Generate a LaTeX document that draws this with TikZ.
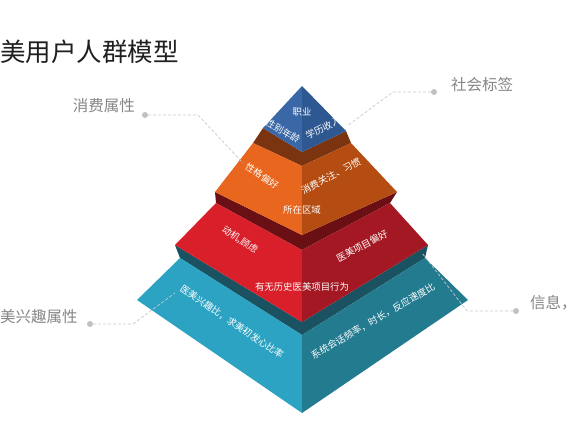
\documentclass[tikz,border=0pt]{standalone}
\usepackage{fontspec}
\setmainfont{Noto Sans CJK SC}
\newfontfamily\cjk{Noto Sans CJK SC}
\definecolor{bluL}{HTML}{3A67A5}
\definecolor{bluR}{HTML}{2D5891}
\definecolor{oraL}{HTML}{E8661E}
\definecolor{oraR}{HTML}{B54D13}
\definecolor{oraD}{HTML}{7A3410}
\definecolor{redL}{HTML}{D91F2A}
\definecolor{redR}{HTML}{A31822}
\definecolor{redD}{HTML}{6A1015}
\definecolor{tealL}{HTML}{2CA3C2}
\definecolor{tealR}{HTML}{237B90}
\definecolor{tealD}{HTML}{1B5262}
\definecolor{lblgray}{HTML}{858585}
\definecolor{linegray}{HTML}{C8C8C8}
\tikzset{
  facetext/.style={text=white, font=\cjk\fontsize{9.4}{10}\selectfont, inner sep=0pt},
  sidelabel/.style={text=lblgray, font=\cjk\fontsize{15.5}{17}\selectfont, inner sep=0pt},
  leader/.style={draw=linegray, dashed, dash pattern=on 3pt off 2pt, line width=0.7pt},
  dotnode/.style={circle, fill=linegray!90!gray, inner sep=0pt, minimum size=6pt},
}
\begin{document}
\begin{tikzpicture}[x=1pt,y=-1pt]
\useasboundingbox (0,0) rectangle (576,432);
% coordinates
\coordinate (A) at (302,86);
\coordinate (BL) at (263,128);
\coordinate (BF) at (302,152);
\coordinate (BR) at (346,131);
\coordinate (OTL) at (253,143);
\coordinate (OTF) at (302,166);
\coordinate (OTR) at (351,143);
\coordinate (OBL) at (215,192);
\coordinate (OBF) at (302,235);
\coordinate (OBR) at (397,192);
\coordinate (RTL) at (216,203);
\coordinate (RTF) at (302,250);
\coordinate (RTR) at (390,203);
\coordinate (RBL) at (175,245);
\coordinate (RBF) at (302,322);
\coordinate (RBR) at (428,245);
\coordinate (TTL) at (180,258);
\coordinate (TTF) at (302,335);
\coordinate (TTR) at (425,258);
\coordinate (TBL) at (137,300);
\coordinate (TBF) at (302,413);
\coordinate (TBR) at (468,300);
% teal tier
\fill[tealD] (TTL) -- (TTF) -- (TTR) -- (RBR) -- (RBF) -- (RBL) -- cycle;
\fill[tealL] (TTL) -- (TTF) -- (TBF) -- (TBL) -- cycle;
\fill[tealR] (TTR) -- (TTF) -- (TBF) -- (TBR) -- cycle;
% red tier
\fill[redD] (RTL) -- (RTF) -- (RTR) -- (OBR) -- (OBF) -- (OBL) -- cycle;
\fill[redL] (RTL) -- (RTF) -- (RBF) -- (RBL) -- cycle;
\fill[redR] (RTR) -- (RTF) -- (RBF) -- (RBR) -- cycle;
% orange tier
\fill[oraD] (OTL) -- (OTF) -- (OTR) -- (BR) -- (BF) -- (BL) -- cycle;
\fill[oraL] (OTL) -- (OTF) -- (OBF) -- (OBL) -- cycle;
\fill[oraR] (OTR) -- (OTF) -- (OBF) -- (OBR) -- cycle;
% blue tier
\fill[bluL] (A) -- (BL) -- (BF) -- cycle;
\fill[bluR] (A) -- (BR) -- (BF) -- cycle;
% face texts
\node[facetext] (t1) at (302,112) {职业};
\node[facetext, rotate=-30] (t2) at (283,131) {性别年龄};
\node[facetext, rotate=27] (t3) at (323,128) {学历收入};
\node[facetext, rotate=-33] (t4) at (262,176) {性格偏好};
\node[facetext, rotate=28] (t5) at (331,176) {消费关注、习惯};
\node[facetext] (t6) at (302,210) {所在区域};
\node[facetext, rotate=-33] (t7) at (240,240) {动机,顾虑};
\node[facetext, rotate=28] (t8) at (362,246) {医美项目偏好};
\node[facetext] (t9) at (302,287) {有无历史医美项目行为};
\node[facetext, rotate=-34] (t10) at (232,322) {医美兴趣比，求美初发心比率};
\node[facetext, rotate=30] (t11) at (373,321) {系统会话频率，时长，反应速度比};
% title
\node[anchor=west, inner sep=0pt, text=black!88, font=\cjk\fontsize{25.5}{27}\selectfont] (title) at (0,52) {美用户人群模型};
% side labels
\node[sidelabel, anchor=east] (l1) at (135,106) {消费属性};
\node[sidelabel, anchor=west] (l2) at (451,85) {社会标签};
\node[sidelabel, anchor=west] (l3) at (0,317) {美兴趣属性};
\node[sidelabel, anchor=west] (l4) at (530,303) {信息，};
% dots
\node[dotnode] (d1) at (145,115) {};
\node[dotnode] (d2) at (434,92) {};
\node[dotnode] (d3) at (90,324) {};
\node[dotnode] (d4) at (516,311) {};
% leader bends and ends
\coordinate (k1) at (198,115);
\coordinate (e1) at (243,163);
\coordinate (k2) at (393,92);
\coordinate (e2) at (347,126);
\coordinate (k3) at (133,324);
\coordinate (e3) at (175,293);
\coordinate (k4) at (467,311);
\coordinate (e4) at (422,253);
\draw[leader] (d1) -- (k1) -- (e1);
\draw[leader] (d2) -- (k2) -- (e2);
\draw[leader] (d3) -- (k3) -- (e3);
\draw[leader] (d4) -- (k4) -- (e4);
\end{tikzpicture}
\end{document}
